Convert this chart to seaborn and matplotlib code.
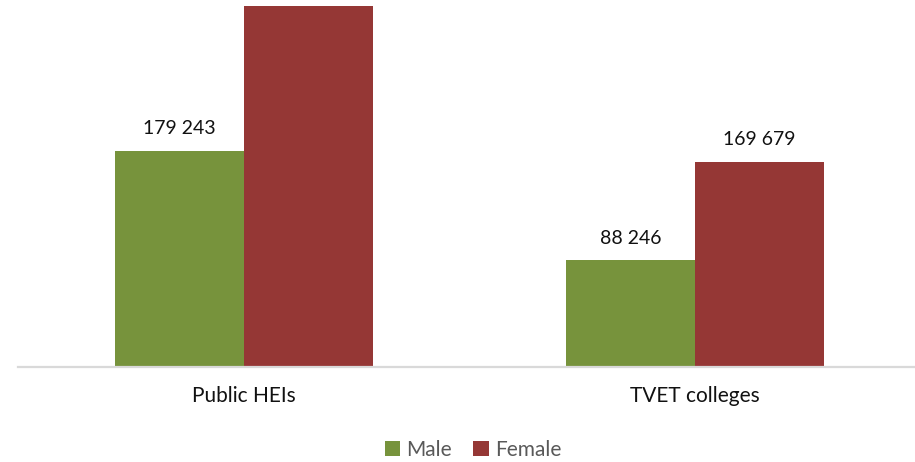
import matplotlib
matplotlib.use("Agg")
import matplotlib.pyplot as plt
from matplotlib.patches import Patch
import seaborn as sns
import pandas as pd

categories = ["Public HEIs", "TVET colleges"]
male = [179243, 88246]
female = [299000, 169679]
female_labels_shown = [False, True]
series_names = ["Male", "Female"]
colors = ["#77933C", "#953735"]

df = pd.DataFrame({
    "institution": categories * 2,
    "sex": [series_names[0]] * 2 + [series_names[1]] * 2,
    "students": male + female,
})

sns.set_theme(style="white")
plt.rcParams["font.family"] = ["Lato", "DejaVu Sans"]

fig = plt.figure(figsize=(9.15, 4.62), dpi=100)
ax = fig.add_axes([18 / 915, 95 / 462, 1 - 18 / 915, 361 / 462])

sns.barplot(data=df, x="institution", y="students", hue="sex",
            palette=colors, width=0.572, gap=0, saturation=1,
            edgecolor="none", linewidth=0, legend=False, ax=ax)

ax.set_xlim(-0.5, 1.488)
ax.set_ylim(0, 299000)


def fmt(v):
    return f"{v:,}".replace(",", " ")


label_sets = [
    [fmt(v) for v in male],
    [fmt(v) if show else "" for v, show in zip(female, female_labels_shown)],
]
for container, labels in zip(ax.containers, label_sets):
    ax.bar_label(container, labels=labels, padding=10, fontsize=14,
                 color="#111111")

for side in ["top", "right", "left"]:
    ax.spines[side].set_visible(False)
ax.spines["bottom"].set_color("#D9D9D9")
ax.spines["bottom"].set_linewidth(1.6)
ax.set_yticks([])
ax.set_xlabel("")
ax.set_ylabel("")
ax.tick_params(axis="x", length=0, pad=14, labelsize=15, labelcolor="#111111")

handles = [Patch(facecolor=c, edgecolor="none") for c in colors]
fig.legend(handles, series_names, loc="center", bbox_to_anchor=(473 / 915, 1 - 450 / 462),
           ncol=2, frameon=False, fontsize=15, labelcolor="#595959",
           handlelength=0.75, handleheight=0.75, handletextpad=0.3,
           columnspacing=1.0)

fig.savefig("out.png", dpi=100)
